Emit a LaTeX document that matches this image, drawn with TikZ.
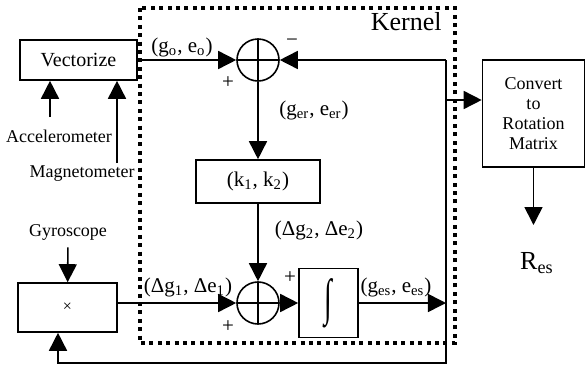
\documentclass[tikz,border=0pt]{standalone}
\usepackage{fontspec}
\setmainfont{Liberation Serif}
\usetikzlibrary{arrows.meta}

\begin{document}
\begin{tikzpicture}[x=0.5pt,y=-0.5pt,line width=0.8pt,
    block/.style={draw,inner sep=0pt,align=center},
    adder/.style={draw,circle,minimum size=21pt,inner sep=0pt,
        path picture={\draw (path picture bounding box.north) -- (path picture bounding box.south)
            (path picture bounding box.west) -- (path picture bounding box.east);}},
    sig/.style={-{Triangle[length=9pt,width=9pt]}},
    kernel/.style={line width=2.2pt,dash pattern=on 2pt off 2.2pt},
    lbl/.style={font=\fontsize{10.5}{12}\selectfont},
    sensor/.style={font=\fontsize{9}{10}\selectfont}
]
\useasboundingbox (0,0) rectangle (586,370);
\node[block,font=\fontsize{10}{12}\selectfont,minimum width=58.5pt,minimum height=20pt] (vec) at (78.5,60) {Vectorize};
\node[adder] (sum1) at (258,60) {};
\node[block,lbl,minimum width=62pt,minimum height=21.5pt] (kbox) at (258,181.5) {(k\textsubscript{1}, k\textsubscript{2})};
\node[adder] (sum2) at (258,303) {};
\node[block,minimum width=49.5pt,minimum height=24.5pt] (xbox) at (67.5,307.5) {\fontsize{8}{8}\selectfont ×};
\node[block,minimum width=29.5pt,minimum height=34.5pt] (intbox) at (328.5,303) {\fontsize{14}{14}\selectfont\scalebox{1}[1.8]{∫}};
\node[block,sensor,minimum width=51pt,minimum height=53.5pt] (conv) at (533.5,113.5) {Convert\\to\\Rotation\\Matrix};

\draw[kernel] (140,8) rectangle (455,343);
\node[font=\fontsize{13}{15}\selectfont,anchor=east] (kerlbl) at (449,22) {Kernel};

\node[sensor] (acc) at (59,136) {Accelerometer};
\node[sensor] (mag) at (82,174) {Magnetometer};
\node[sensor] (gyr) at (68,232) {Gyroscope};
\node[font=\fontsize{13}{15}\selectfont] (res) at (537,263) {R\textsubscript{es}};

\node[lbl] (go) at (182,47) {(g\textsubscript{o}, e\textsubscript{o})};
\node[lbl] (ger) at (314,110) {(g\textsubscript{er}, e\textsubscript{er})};
\node[lbl] (dg2) at (319,230) {(Δg\textsubscript{2}, Δe\textsubscript{2})};
\node[lbl] (dg1) at (188,287) {(Δg\textsubscript{1}, Δe\textsubscript{1})};
\node[lbl] (ges) at (396,287) {(g\textsubscript{es}, e\textsubscript{es})};
\node[lbl] (p1) at (228,83) {+};
\node[lbl] (m1) at (292,43) {−};
\node[lbl] (p2) at (290,278) {+};
\node[lbl] (p3) at (228,327) {+};

\coordinate (fbtop) at (446,60);
\coordinate (fbout) at (446,303);
\coordinate (fbbot) at (446,363);
\coordinate (convin) at (446,100);
\coordinate (xin) at ([xshift=-4.75pt]xbox.south);
\coordinate (accout) at (50,117);
\coordinate (magout) at (117,163);
\coordinate (resarr) at (533.5,225);

\draw[sig] (vec) -- (sum1);
\draw[sig] (fbtop) -- (sum1);
\draw[sig] (fbtop) -- (fbbot) -| (xin);
\draw[sig] (convin) -- (convin -| conv.west);
\draw[sig] (sum1) -- (kbox);
\draw[sig] (kbox) -- (sum2);
\draw[sig] (xbox.east |- sum2) -- (sum2);
\draw[sig] (sum2) -- (intbox);
\draw[sig] (intbox) -- (fbout);
\draw[sig] (conv) -- (resarr);
\draw[sig] (accout) -- (accout |- vec.south);
\draw[sig] (magout) -- (magout |- vec.south);
\draw[sig] (gyr) -- (xbox);
\end{tikzpicture}
\end{document}
